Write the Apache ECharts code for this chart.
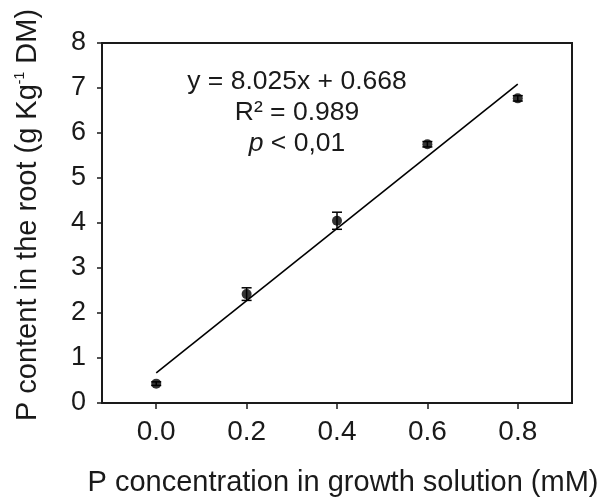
<!DOCTYPE html>
<html>
<head>
<meta charset="utf-8">
<script src="https://cdn.jsdelivr.net/npm/echarts@6/dist/echarts.min.js"></script>
<style>
  html, body { margin: 0; padding: 0; background: #fff; }
  #main { width: 607px; height: 502px; }
</style>
</head>
<body>
<div id="main"></div>
<script>
// P concentration (mM) and root P content (g/kg DM)
var concX = [0.0, 0.2, 0.4, 0.6, 0.8];
var contentY = [0.43, 2.42, 4.05, 5.75, 6.77];
var contentErr = [0.04, 0.14, 0.19, 0.06, 0.06];
var xTicks = [0.0, 0.2, 0.4, 0.6, 0.8];
var yTicks = [0, 1, 2, 3, 4, 5, 6, 7, 8];
// regression y = 8.025x + 0.668 drawn over the measured range
var fitSlope = 8.025;
var fitIntercept = 0.668;
var fitRange = [0.0, 0.8];
var statLines = ['y = 8.025x + 0.668', 'R² = 0.989', '{i|p} < 0,01'];

var font = '"Liberation Sans", Arial, sans-serif';
var ink = '#1a1a1a';

function makeChart() {
    var myChart = echarts.init(document.getElementById('main'), null, { renderer: 'canvas' });

    var points = concX.map(function(x, i) { return [x, contentY[i]]; });
    var bars = concX.map(function(x, i) { return [x, contentY[i] - contentErr[i], contentY[i] + contentErr[i]]; });
    var fitLine = fitRange.map(function(x) { return [x, fitSlope * x + fitIntercept]; });

    var texts = statLines.map(function(t, i) {
        return {
            type: 'text',
            x: 297, y: 82 + i * 31,
            style: {
                text: t,
                align: 'center', verticalAlign: 'middle',
                fontFamily: font, fontSize: 26.5, fill: ink,
                rich: {
                    i: { fontFamily: font, fontSize: 26.5, fontStyle: 'italic', fill: ink }
                }
            }
        };
    });

    var option = {
        backgroundColor: '#fff',
        animation: false,
        grid: {
            left: 102, right: 35, top: 43, bottom: 96,
            show: true, borderColor: ink, borderWidth: 2, backgroundColor: 'transparent'
        },
        xAxis: {
            type: 'value',
            min: -0.12, max: 0.92,
            name: 'P concentration in growth solution (mM)',
            nameLocation: 'middle',
            nameGap: 65,
            nameTextStyle: { fontFamily: font, fontSize: 29, color: ink, padding: [0, 0, 0, 12] },
            axisLine: { show: true, onZero: false, lineStyle: { color: ink, width: 2 } },
            axisTick: { show: true, length: 6, customValues: xTicks, lineStyle: { color: ink, width: 1.5 } },
            axisLabel: {
                customValues: xTicks, margin: 15,
                fontFamily: font, fontSize: 28, color: ink,
                formatter: function(v) { return v.toFixed(1); }
            },
            splitLine: { show: false }
        },
        yAxis: {
            type: 'value',
            min: 0, max: 8, interval: 1,
            name: '{t|P content in the root (g Kg}{sup|-1}{t| DM)}',
            nameLocation: 'middle',
            nameGap: 60,
            nameRotate: 90,
            nameTextStyle: {
                color: ink,
                padding: [0, 0, 0, 16],
                rich: {
                    t: { fontFamily: font, fontSize: 29, color: ink },
                    sup: { fontFamily: font, fontSize: 14, color: ink, verticalAlign: 'top', padding: [0, 0, 14, 0] }
                }
            },
            axisLine: { show: true, onZero: false, lineStyle: { color: ink, width: 2 } },
            axisTick: { show: true, length: 5, lineStyle: { color: ink, width: 1.5 } },
            axisLabel: {
                margin: 16, fontFamily: font, fontSize: 27, color: ink,
                customValues: yTicks
            },
            splitLine: { show: false }
        },
        graphic: texts,
        series: [
            {
                type: 'line',
                data: fitLine,
                symbol: 'none',
                lineStyle: { color: '#000', width: 1.6 },
                z: 2
            },
            {
                type: 'custom',
                data: bars,
                z: 3,
                renderItem: function(params, api) {
                    var top = api.coord([api.value(0), api.value(2)]);
                    var bot = api.coord([api.value(0), api.value(1)]);
                    var hw = 5;
                    var st = { stroke: '#000', lineWidth: 1.5 };
                    return {
                        type: 'group',
                        children: [
                            { type: 'line', shape: { x1: top[0], y1: top[1], x2: bot[0], y2: bot[1] }, style: st },
                            { type: 'line', shape: { x1: top[0] - hw, y1: top[1], x2: top[0] + hw, y2: top[1] }, style: st },
                            { type: 'line', shape: { x1: bot[0] - hw, y1: bot[1], x2: bot[0] + hw, y2: bot[1] }, style: st }
                        ]
                    };
                }
            },
            {
                type: 'scatter',
                data: points,
                symbol: 'circle',
                symbolSize: 10,
                itemStyle: { color: '#000' },
                z: 4
            }
        ]
    };
    myChart.setOption(option);
}

makeChart();
</script>
</body>
</html>
